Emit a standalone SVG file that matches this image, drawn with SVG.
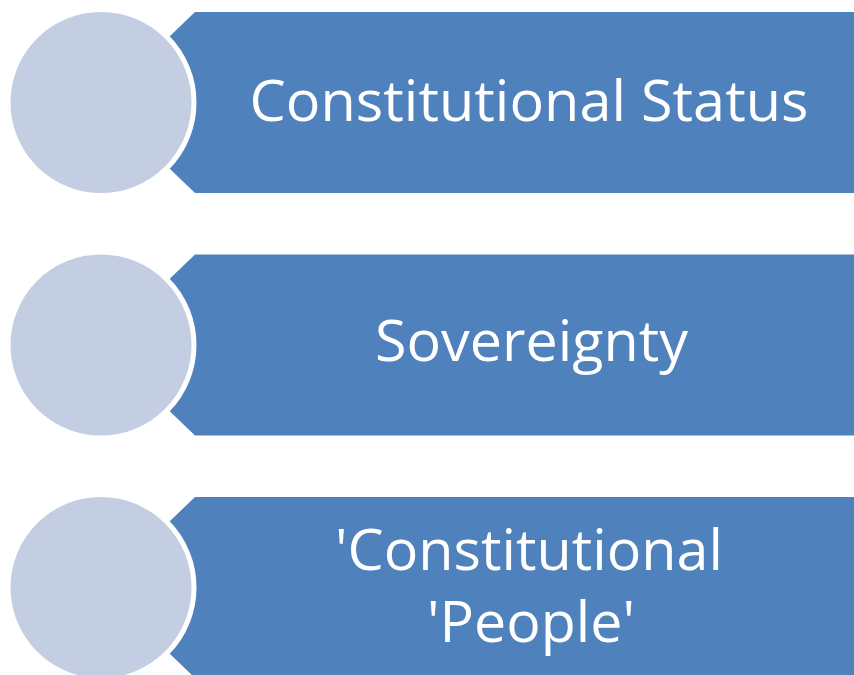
<svg xmlns="http://www.w3.org/2000/svg" width="854" height="675" viewBox="0 0 854 675">
  <style>
    .bar { fill: #4F81BD; }
    .dot { fill: #C4CEE2; stroke: #FFFFFF; stroke-width: 5; }
    .label { fill: #FFFFFF; font-family: "Open Sans", "Noto Sans", "Liberation Sans", sans-serif; font-size: 57px; text-anchor: middle; }
  </style>
  <defs>
    <!-- chamfered banner, top-left origin, 181 tall -->
    <path id="banner" d="M195,0 H860 V181 H195 L170,157 V24 Z"/>
  </defs>
  <rect width="854" height="675" fill="#FFFFFF"/>

  <g id="item-constitutional-status">
    <use href="#banner" class="bar" transform="translate(0,12)"/>
    <circle class="dot" cx="101" cy="102.5" r="93"/>
    <text class="label" x="529" y="121" textLength="559" lengthAdjust="spacingAndGlyphs">Constitutional Status</text>
  </g>

  <g id="item-sovereignty">
    <use href="#banner" class="bar" transform="translate(0,254.5)"/>
    <circle class="dot" cx="101" cy="345" r="93"/>
    <text class="label" x="531.5" y="361" textLength="313" lengthAdjust="spacingAndGlyphs">Sovereignty</text>
  </g>

  <g id="item-constitutional-people">
    <use href="#banner" class="bar" transform="translate(0,497)"/>
    <circle class="dot" cx="101" cy="587.5" r="93"/>
    <text class="label" x="529" y="570" textLength="388" lengthAdjust="spacingAndGlyphs">'Constitutional</text>
    <text class="label" x="531" y="642" textLength="208" lengthAdjust="spacingAndGlyphs">'People'</text>
  </g>

  <g id="connectors"/>
</svg>
